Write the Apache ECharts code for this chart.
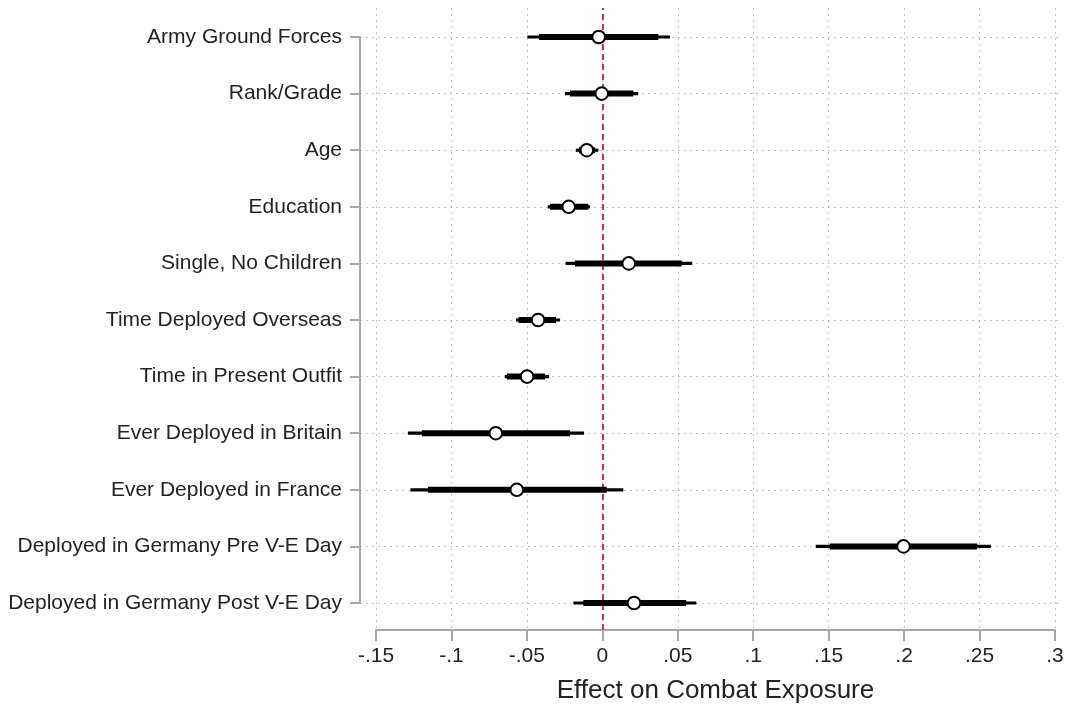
<!DOCTYPE html>
<html>
<head>
<meta charset="utf-8">
<script src="https://cdn.jsdelivr.net/npm/echarts@6/dist/echarts.min.js"></script>
<style>
    html, body {margin: 0; padding: 0; background: #fff;}
    #container {width: 1070px; height: 709px;}
</style>
</head>
<body>
<div id="container"></div>
<script>
//变量名称
let names = ['Army Ground Forces', 'Rank/Grade', 'Age', 'Education', 'Single, No Children',
    'Time Deployed Overseas', 'Time in Present Outfit', 'Ever Deployed in Britain',
    'Ever Deployed in France', 'Deployed in Germany Pre V-E Day', 'Deployed in Germany Post V-E Day'];
//点估计
let estimates = [-0.0024, -0.0004, -0.0103, -0.0223, 0.0175, -0.0426, -0.0499, -0.0706, -0.0567, 0.1996, 0.0210];
//粗线 (内区间)
let innerLow = [-0.0419, -0.0214, -0.0155, -0.0347, -0.0181, -0.0556, -0.0633, -0.1196, -0.1156, 0.1507, -0.0126];
let innerHigh = [0.0371, 0.0205, -0.0048, -0.0093, 0.0526, -0.0307, -0.0380, -0.0214, 0.0029, 0.2484, 0.0556];
//细线 (外区间)
let outerLow = [-0.0497, -0.0247, -0.0176, -0.0362, -0.0243, -0.0572, -0.0647, -0.1289, -0.1272, 0.1414, -0.0192];
let outerHigh = [0.0448, 0.0238, -0.0026, -0.0081, 0.0596, -0.0280, -0.0353, -0.0121, 0.0139, 0.2575, 0.0623];
//x轴刻度
let xMin = -0.15, xMax = 0.3, xStep = 0.05;
let refLine = 0;
let axisTitle = 'Effect on Combat Exposure';

let coefData = names.map(function (n, i) {
    return [i, estimates[i], outerLow[i], outerHigh[i], innerLow[i], innerHigh[i]];
});

let textFont = 'Liberation Sans';
let axisGray = '#a8a8a8';
let dotLine = {color: '#c4c4c4', width: 1, type: [2, 4]};

function tickText(v) {
    if (Math.abs(v) < 1e-9) return '0';
    return String(+v.toFixed(2)).replace('0.', '.');
}

function renderCoef(params, api) {
    let i = api.value(0);
    let y = api.coord([0, i])[1];
    let oL = api.coord([api.value(2), i])[0];
    let oH = api.coord([api.value(3), i])[0];
    let iL = api.coord([api.value(4), i])[0];
    let iH = api.coord([api.value(5), i])[0];
    let ex = api.coord([api.value(1), i])[0];
    return {
        type: 'group',
        children: [
            {type: 'line', shape: {x1: oL, y1: y, x2: oH, y2: y}, style: {stroke: '#000', lineWidth: 3.2, lineCap: 'butt'}},
            {type: 'line', shape: {x1: iL, y1: y, x2: iH, y2: y}, style: {stroke: '#000', lineWidth: 6, lineCap: 'butt'}},
            {type: 'circle', shape: {cx: ex, cy: y, r: 6.3}, style: {fill: '#fff', stroke: '#000', lineWidth: 2}}
        ]
    };
}

let dom = document.getElementById('container');
let myChart = echarts.init(dom);
let option = {
    backgroundColor: '#fff',
    animation: false,
    textStyle: {fontFamily: textFont},
    grid: [
        {left: 376, right: 15, top: 8, bottom: 77},
        {left: 360, right: 10, top: 37, bottom: 106},
        {left: 376, right: 15, top: 37, bottom: 106}
    ],
    xAxis: [
        {
            gridIndex: 0,
            type: 'value',
            min: xMin,
            max: xMax,
            interval: xStep,
            name: axisTitle,
            nameLocation: 'middle',
            nameGap: 48,
            nameTextStyle: {color: '#222', fontSize: 26, fontFamily: textFont},
            axisLine: {lineStyle: {color: axisGray, width: 2}},
            axisTick: {length: 11, lineStyle: {color: axisGray, width: 2}},
            axisLabel: {color: '#222', fontSize: 21, margin: 16, formatter: tickText, fontFamily: textFont},
            splitLine: {show: true, lineStyle: dotLine}
        },
        {gridIndex: 1, type: 'value', min: 0, max: 1, show: false},
        {gridIndex: 2, type: 'value', min: xMin, max: xMax, show: false}
    ],
    yAxis: [
        {gridIndex: 0, type: 'value', min: 0, max: 1, show: false},
        {
            gridIndex: 1,
            type: 'category',
            data: names,
            inverse: true,
            boundaryGap: false,
            offset: 2,
            axisLine: {lineStyle: {color: axisGray, width: 2}},
            axisTick: {length: 10, lineStyle: {color: axisGray, width: 2}},
            axisLabel: {color: '#222', fontSize: 21, margin: 16, padding: [4, 0, 0, 0], fontFamily: textFont},
            splitLine: {show: true, lineStyle: dotLine}
        },
        {gridIndex: 2, type: 'category', data: names, inverse: true, boundaryGap: false, show: false}
    ],
    series: [
        {
            type: 'line',
            xAxisIndex: 0,
            yAxisIndex: 0,
            data: [],
            silent: true,
            markLine: {
                symbol: 'none',
                silent: true,
                label: {show: false},
                lineStyle: {color: '#c8203c', width: 1.8, type: [6, 4]},
                data: [{xAxis: refLine}]
            }
        },
        {
            type: 'custom',
            xAxisIndex: 2,
            yAxisIndex: 2,
            renderItem: renderCoef,
            encode: {x: [1, 2, 3, 4, 5], y: 0},
            data: coefData,
            z: 10
        }
    ]
};
myChart.setOption(option, true);
window.onresize = function () {
    myChart.resize();
};
</script>
</body>
</html>
